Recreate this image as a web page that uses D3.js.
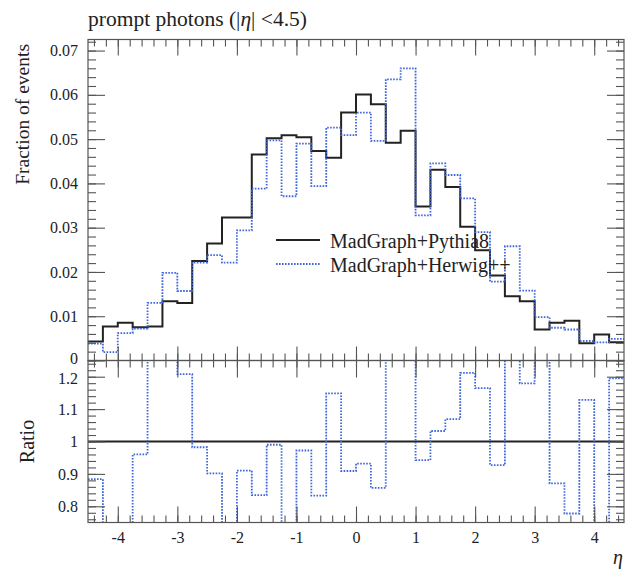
<!DOCTYPE html>
<html>
<head>
<meta charset="utf-8">
<script src="https://cdn.jsdelivr.net/npm/d3@7"></script>
<style>
  html, body { margin: 0; padding: 0; background: #fff; }
  svg { display: block; }
</style>
</head>
<body>
<svg id="chart" width="625" height="573"></svg>
<script>
// Bin lower edges in eta (width 0.25), plus the upper edge of the last bin
const binEdges = [-4.5, -4.25, -4.0, -3.75, -3.5, -3.25, -3.0, -2.75, -2.5, -2.25, -2.0, -1.75,
                  -1.5, -1.25, -1.0, -0.75, -0.5, -0.25, 0.0, 0.25, 0.5, 0.75, 1.0, 1.25,
                  1.5, 1.75, 2.0, 2.25, 2.5, 2.75, 3.0, 3.25, 3.5, 3.75, 4.0, 4.25, 4.5];

// Fraction of events per bin
const pythia8 = [0.0043, 0.0077, 0.0085, 0.0075, 0.0077, 0.0134, 0.0130, 0.0225, 0.0264, 0.0323, 0.0323, 0.0465,
                 0.0502, 0.0509, 0.0504, 0.0473, 0.0458, 0.0560, 0.0601, 0.0579, 0.0492, 0.0519, 0.0348, 0.0431,
                 0.0392, 0.0302, 0.0249, 0.0192, 0.0145, 0.0134, 0.0070, 0.0085, 0.0090, 0.0039, 0.0059, 0.0041];
const herwigpp = [0.0038, 0.0019, 0.0062, 0.0072, 0.0130, 0.0198, 0.0157, 0.0221, 0.0238, 0.0221, 0.0294, 0.0388,
                  0.0497, 0.0371, 0.0490, 0.0394, 0.0526, 0.0509, 0.0560, 0.0496, 0.0635, 0.0660, 0.0328, 0.0445,
                  0.0419, 0.0366, 0.0290, 0.0178, 0.0258, 0.0158, 0.0098, 0.0074, 0.0070, 0.0044, 0.0041, 0.0049];

const seriesNames = ["MadGraph+Pythia8", "MadGraph+Herwig++"];
const xTicks = [-4, -3, -2, -1, 0, 1, 2, 3, 4];
const yTicks = [0, 0.01, 0.02, 0.03, 0.04, 0.05, 0.06, 0.07];
const ratioTicks = [0.8, 0.9, 1.0, 1.1, 1.2];

// Title pieces: [text, italic]
const titleParts = [["prompt photons (|", false], ["\u03B7", true], ["| <4.5)", false]];
const yLabel = "Fraction of events";
const ratioLabel = "Ratio";
const xLabel = "\u03B7";

// Layout
const L = 88, R = 624;
const mainTop = 39.5, mainBot = 360.5, ratBot = 522.5;
const serif = "'Liberation Serif', 'DejaVu Serif', serif";
const frameColor = "#555";
const colors = ["#222", "#3f66da"];

const svg = d3.select("#chart");

const x = d3.scaleLinear().domain([-4.5, 4.5]).range([L, R]);
const y = d3.scaleLinear().domain([0, 0.0725]).range([mainBot, mainTop]);
const yr = d3.scaleLinear().domain([0.75, 1.25]).range([ratBot, mainBot]);

const defs = svg.append("defs");
defs.append("clipPath").attr("id", "clipMain")
  .append("rect").attr("x", L).attr("y", mainTop).attr("width", R - L).attr("height", mainBot - mainTop);
defs.append("clipPath").attr("id", "clipRatio")
  .append("rect").attr("x", L).attr("y", mainBot).attr("width", R - L).attr("height", ratBot - mainBot);

// Step points: one per bin plus the closing edge
function stepPoints(vals) {
  const pts = vals.map((v, i) => [binEdges[i], v]);
  pts.push([binEdges[binEdges.length - 1], vals[vals.length - 1]]);
  return pts;
}

const mainLine = d3.line().x(d => x(d[0])).y(d => y(d[1])).curve(d3.curveStepAfter);
const ratioLine = d3.line().x(d => x(d[0])).y(d => yr(d[1])).curve(d3.curveStepAfter);

const ratioH = herwigpp.map((v, i) => v / pythia8[i]);
const ratioP = pythia8.map((v, i) => v / pythia8[i]);

const styleSeries = (sel, k) => {
  sel.attr("fill", "none").attr("stroke", colors[k]);
  if (k === 0) sel.attr("stroke-width", 2);
  else sel.attr("stroke-width", 1.8).attr("stroke-dasharray", "1.6,1.4");
};

// Main panel histograms
const gMain = svg.append("g").attr("clip-path", "url(#clipMain)");
[pythia8, herwigpp].forEach((vals, k) => {
  gMain.append("path").attr("d", mainLine(stepPoints(vals))).call(styleSeries, k);
});

// Ratio panel histograms
const gRatio = svg.append("g").attr("clip-path", "url(#clipRatio)");
[ratioP, ratioH].forEach((vals, k) => {
  gRatio.append("path").attr("d", ratioLine(stepPoints(vals))).call(styleSeries, k);
});

// Axes helper: inward ticks with no domain line
function tickAxis(axis, tx, ty, size, values, labels) {
  const g = svg.append("g").attr("transform", `translate(${tx},${ty})`);
  axis.tickValues(values).tickSize(size);
  if (!labels) axis.tickFormat("");
  g.call(axis);
  g.select(".domain").remove();
  g.selectAll(".tick line").attr("stroke", frameColor).attr("stroke-width", 1.1);
  g.selectAll("text").attr("font-family", serif).attr("font-size", 16).attr("fill", "#222");
  return g;
}

const xMinor = x.ticks(45);
const yMinor = y.ticks(36);
const rMinor = yr.ticks(25);

// Main panel x ticks (top and bottom)
tickAxis(d3.axisTop(x), 0, mainTop, -16, xTicks, false);
tickAxis(d3.axisTop(x), 0, mainTop, -7, xMinor, false);
tickAxis(d3.axisBottom(x), 0, mainBot, -14, xTicks, false);
tickAxis(d3.axisBottom(x), 0, mainBot, -7, xMinor, false);
// Ratio panel x ticks (top and bottom, labels on bottom)
tickAxis(d3.axisTop(x), 0, mainBot, -17, xTicks, false);
tickAxis(d3.axisTop(x), 0, mainBot, -7, xMinor, false);
tickAxis(d3.axisBottom(x).tickPadding(9)
  .tickFormat(d => (d < 0 ? "-" + Math.abs(d) : String(d))), 0, ratBot, -16, xTicks, true);
tickAxis(d3.axisBottom(x), 0, ratBot, -7, xMinor, false);

// Main panel y ticks (left with labels, right mirrored)
const gyMain = tickAxis(d3.axisLeft(y).tickPadding(10).tickFormat(d => String(+d.toFixed(2))), L, 0, -17, yTicks, true);
// lift the "0" label a little so it clears the ratio panel's top label
gyMain.selectAll(".tick text").filter(d => d === 0).attr("dy", "0.2em");
tickAxis(d3.axisLeft(y), L, 0, -8, yMinor, false);
tickAxis(d3.axisRight(y), R, 0, -17, yTicks, false);
tickAxis(d3.axisRight(y), R, 0, -8, yMinor, false);

// Ratio panel y ticks
const gyRatio = tickAxis(d3.axisLeft(yr).tickPadding(10).tickFormat(d => String(+d.toFixed(1))), L, 0, -17, ratioTicks, true);
gyRatio.selectAll(".tick text").filter(d => d === 1.2).attr("dy", "0.42em");
tickAxis(d3.axisLeft(yr), L, 0, -8, rMinor, false);
tickAxis(d3.axisRight(yr), R, 0, -17, ratioTicks, false);
tickAxis(d3.axisRight(yr), R, 0, -8, rMinor, false);

// Frames
svg.append("rect").attr("x", L).attr("y", mainTop).attr("width", R - L).attr("height", mainBot - mainTop)
  .attr("fill", "none").attr("stroke", frameColor).attr("stroke-width", 1.2);
svg.append("rect").attr("x", L).attr("y", mainBot).attr("width", R - L).attr("height", ratBot - mainBot)
  .attr("fill", "none").attr("stroke", frameColor).attr("stroke-width", 1.2);

// Legend
const legend = svg.append("g").attr("transform", "translate(276,240)");
seriesNames.forEach((name, k) => {
  const row = legend.append("g").attr("transform", `translate(0,${k * 24})`);
  row.append("line").attr("x1", 0).attr("x2", 44).attr("y1", 0).attr("y2", 0).call(styleSeries, k);
  row.append("text").attr("x", 54).attr("y", 7.5)
    .attr("font-family", serif).attr("font-size", 20).attr("fill", "#222").text(name);
});

// Titles and axis labels
const title = svg.append("text").attr("x", L).attr("y", 26)
  .attr("font-family", serif).attr("font-size", 21.5).attr("fill", "#222");
titleParts.forEach(([t, it]) => {
  title.append("tspan").attr("font-style", it ? "italic" : "normal").text(t);
});

svg.append("text").attr("transform", "translate(29,44) rotate(-90)")
  .attr("text-anchor", "end")
  .attr("font-family", serif).attr("font-size", 19.5).attr("fill", "#222").text(yLabel);

svg.append("text").attr("transform", `translate(34,${yr(1)}) rotate(-90)`)
  .attr("text-anchor", "middle")
  .attr("font-family", serif).attr("font-size", 20).attr("fill", "#222").text(ratioLabel);

svg.append("text").attr("x", R - 1).attr("y", 564).attr("text-anchor", "end")
  .attr("font-family", serif).attr("font-style", "italic").attr("font-size", 20).attr("fill", "#222").text(xLabel);
</script>
</body>
</html>
